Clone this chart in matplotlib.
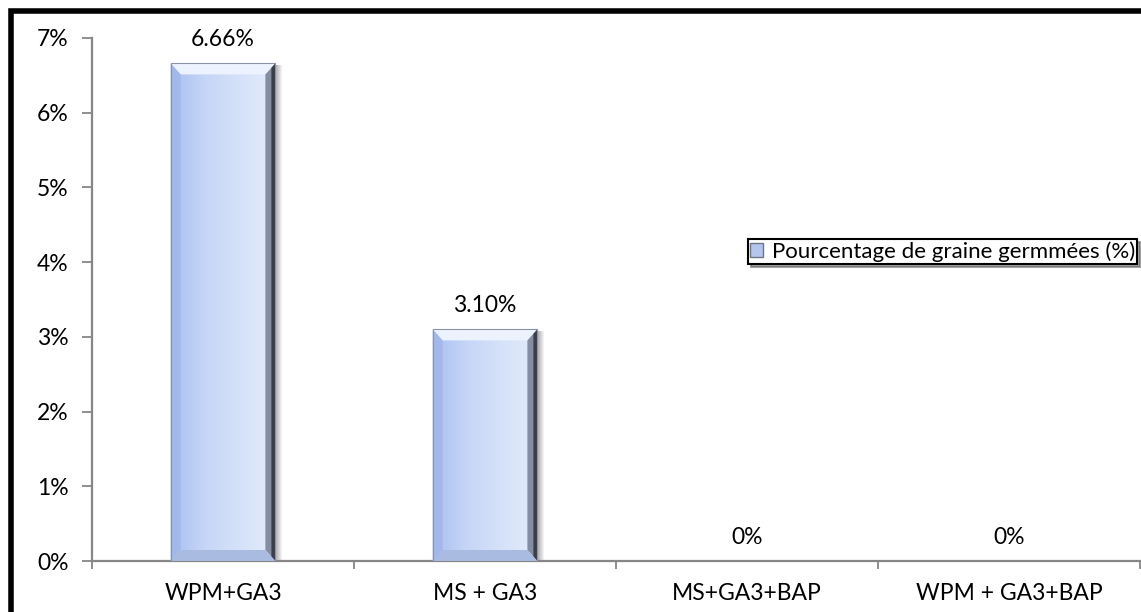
import numpy as np
import matplotlib
matplotlib.use('Agg')
import matplotlib.pyplot as plt
from matplotlib.patches import Rectangle, Polygon
from matplotlib.colors import LinearSegmentedColormap

plt.rcParams['font.family'] = ['Lato', 'DejaVu Sans']

categories = ['WPM+GA3', 'MS + GA3', 'MS+GA3+BAP', 'WPM + GA3+BAP']
values = [6.66, 3.10, 0, 0]
labels = ['6.66%', '3.10%', '0%', '0%']
series_name = 'Pourcentage de graine germmées (%)'
yticks = [0, 1, 2, 3, 4, 5, 6, 7]

W, H = 1141, 612
fig = plt.figure(figsize=(W/100, H/100), dpi=100)
# axe : x de 92 a 1140 px, y de 561 (0%) a 38 (7%)
ax = fig.add_axes([92/W, 1-561/H, 1048/W, 523/H])

x = np.arange(len(categories))
width = 0.40
ax.set_xlim(-0.5, len(categories) - 0.5)
ax.set_ylim(0, 7)

# degrade bleu des barres
cmap = LinearSegmentedColormap.from_list('bleu', ['#a9c0f2', '#c6d6f6', '#d6e2f9', '#e3ecfc'])
grad = np.linspace(0, 1, 200).reshape(1, -1)

# taille du biseau en unites de donnees
px_x = 1 / 262.0
px_y = 7 / 523.0
bx = 10 * px_x
by = 11 * px_y
for xi, v in zip(x, values):
    if v <= 0:
        continue
    x0, x1 = xi - width/2, xi + width/2
    # ombre douce a droite
    for k in range(7):
        ax.add_patch(Rectangle((x1, 0), (k+1)*1.0*px_x, v - 2*px_y,
                               color='#000000', alpha=0.05, lw=0, zorder=1))
    ax.imshow(grad, cmap=cmap, extent=[x0, x1, 0, v], aspect='auto', zorder=2)
    # biseau haut
    ax.add_patch(Polygon([[x0, v], [x1, v], [x1 - bx, v - by], [x0 + bx, v - by]],
                         closed=True, color='#edf3fe', lw=0, zorder=3))
    # biseau gauche
    ax.add_patch(Polygon([[x0, 0], [x0, v], [x0 + bx, v - by], [x0 + bx, by]],
                         closed=True, color='#a3b8ea', lw=0, zorder=3))
    # biseau droit (sombre)
    ax.add_patch(Polygon([[x1, 0], [x1, v], [x1 - bx, v - by], [x1 - bx, by]],
                         closed=True, color='#858da0', lw=0, zorder=3))
    ax.add_patch(Polygon([[x1, 0], [x1, v], [x1 - 0.4*bx, v - 0.4*by], [x1 - 0.4*bx, 0.4*by]],
                         closed=True, color='#3a3e4a', lw=0, zorder=3))
    # biseau bas
    ax.add_patch(Polygon([[x0, 0], [x1, 0], [x1 - bx, by], [x0 + bx, by]],
                         closed=True, color='#aabbe2', lw=0, zorder=3))
    ax.add_patch(Rectangle((x0, 0), width, v, fill=False, ec='#8a93a6', lw=0.8, zorder=4))

for xi, v, lab in zip(x, values, labels):
    ax.annotate(lab, (xi, v), xytext=(0, 12.5), textcoords='offset points',
                ha='center', va='baseline', fontsize=16.5, color='black')

ax.set_yticks(yticks)
ax.set_yticklabels(['%d%%' % t for t in yticks], fontsize=16.5)
ax.set_xticks(x)
ax.set_xticklabels(categories, fontsize=16.5)
ax.set_xticks(np.arange(-0.5, len(categories)), minor=True)
ax.tick_params(axis='x', which='major', length=0, pad=16)
ax.tick_params(axis='x', which='minor', length=6, color='#868686', width=1.3)
ax.tick_params(axis='y', length=7, color='#868686', width=1.3, pad=10)

for s in ['top', 'right']:
    ax.spines[s].set_visible(False)
for s in ['left', 'bottom']:
    ax.spines[s].set_color('#868686')
    ax.spines[s].set_linewidth(1.6)

# legende
handle = Rectangle((0, 0), 1, 1, facecolor='#b4c6ef', edgecolor='#6e7584', lw=1)
leg = ax.legend([handle], [series_name], loc='upper right',
                bbox_to_anchor=(1137/W, 1-239/H), bbox_transform=fig.transFigure,
                fontsize=16, frameon=True, fancybox=False, shadow=True,
                handlelength=0.55, handleheight=0.55, handletextpad=0.4,
                borderpad=0.1, borderaxespad=0)
leg.get_frame().set_edgecolor('black')
leg.get_frame().set_linewidth(1.5)

# cadre noir autour de la figure
fig.patches.append(Rectangle((10.5/W, -0.1), 1.2, 1 - 11/H + 0.1,
                             transform=fig.transFigure, fill=False,
                             ec='black', lw=4, clip_on=False))

fig.savefig('out.png', dpi=100)
